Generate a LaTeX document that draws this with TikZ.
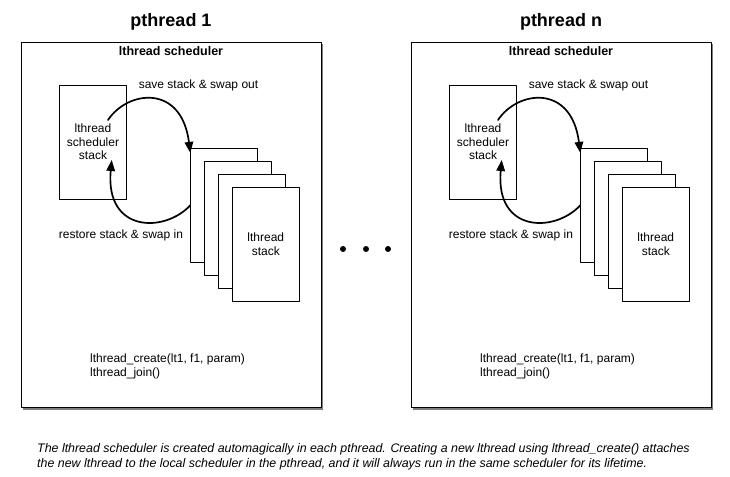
\documentclass[tikz,border=0pt]{standalone}
\usepackage{fontspec}
\setmainfont{Liberation Sans}
\usetikzlibrary{arrows.meta}
\usetikzlibrary{shadows}

\tikzset{
  schedbox/.style={draw,line width=0.8pt,fill=white,minimum width=300pt,minimum height=365pt,inner sep=0pt,
    drop shadow={shadow xshift=1.5pt,shadow yshift=-2.5pt,opacity=0.5,fill=black}},
  stackbox/.style={draw,line width=0.8pt,fill=white,minimum width=67pt,minimum height=114pt,inner sep=0pt,
    align=center,font=\fontsize{12}{13.5}\selectfont},
  swaparrow/.style={->,line width=1.7pt},
  txt/.style={font=\fontsize{12}{13.5}\selectfont,inner sep=0pt},
  titletxt/.style={font=\bfseries\fontsize{18}{20}\selectfont,inner sep=0pt},
  schedtxt/.style={font=\bfseries\fontsize{12.5}{14}\selectfont,inner sep=0pt},
}

\begin{document}
\begin{tikzpicture}[line cap=round,line join=round,>={Triangle[length=11pt,width=8.5pt]},x=1pt,y=-1pt]
\useasboundingbox (0,0) rectangle (730,476);
% first pthread
\begin{scope}[shift={(0,0)}]
\node [schedbox] (sched1) at (171,224.5) {};
\node [titletxt] (title1) at (171,22) {pthread 1};
\node [schedtxt] (lbl1) at (171,51) {lthread scheduler};
\node [stackbox] (ss1) at (93,142) {lthread\\scheduler\\stack};
\node [stackbox] (st1a) at (224.2,205.3) {};
\node [stackbox] (st1b) at (237.8,218.7) {};
\node [stackbox] (st1c) at (252,231.3) {};
\node [stackbox] (st1d) at (265.8,244.2) {lthread\\stack};
\draw [swaparrow] ([xshift=15pt,yshift=22pt]ss1.center) .. controls +(20,-30) and +(-8.7,-69) .. ([yshift=-5pt]st1a.north west);
\draw [swaparrow] (st1a.west) .. controls +(-25.7,27.7) and +(-6.7,73) .. ([xshift=18.7pt,yshift=-18pt]ss1.center);
\node [txt] (save1) at (198.5,85) {save stack \& swap out};
\node [txt] (restore1) at (121,235.7) {restore stack \& swap in};
\node [txt,anchor=west,align=left] (code1) at (90,366.5) {lthread\_create(lt1, f1, param)\\lthread\_join()};
\end{scope}
% dots in between
\foreach \x in {343,366,388}
  \fill (\x,249) circle (3pt);
% last pthread
\begin{scope}[shift={(390,0)}]
\node [schedbox] (schedn) at (171,224.5) {};
\node [titletxt] (titlen) at (171,22) {pthread n};
\node [schedtxt] (lbln) at (171,51) {lthread scheduler};
\node [stackbox] (ssn) at (93,142) {lthread\\scheduler\\stack};
\node [stackbox] (stna) at (224.2,205.3) {};
\node [stackbox] (stnb) at (237.8,218.7) {};
\node [stackbox] (stnc) at (252,231.3) {};
\node [stackbox] (stnd) at (265.8,244.2) {lthread\\stack};
\draw [swaparrow] ([xshift=15pt,yshift=22pt]ssn.center) .. controls +(20,-30) and +(-8.7,-69) .. ([yshift=-5pt]stna.north west);
\draw [swaparrow] (stna.west) .. controls +(-25.7,27.7) and +(-6.7,73) .. ([xshift=18.7pt,yshift=-18pt]ssn.center);
\node [txt] (saven) at (198.5,85) {save stack \& swap out};
\node [txt] (restoren) at (121,235.7) {restore stack \& swap in};
\node [txt,anchor=west,align=left] (coden) at (90,366.5) {lthread\_create(lt1, f1, param)\\lthread\_join()};
\end{scope}
% caption
\node [font=\itshape\fontsize{12.4}{15}\selectfont,align=left,anchor=west,inner sep=0pt] (caption) at (37,456.5)
  {The lthread scheduler is created automagically in each pthread. Creating a new lthread using lthread\_create() attaches\\
   the new lthread to the local scheduler in the pthread, and it will always run in the same scheduler for its lifetime.};
\end{tikzpicture}
\end{document}
